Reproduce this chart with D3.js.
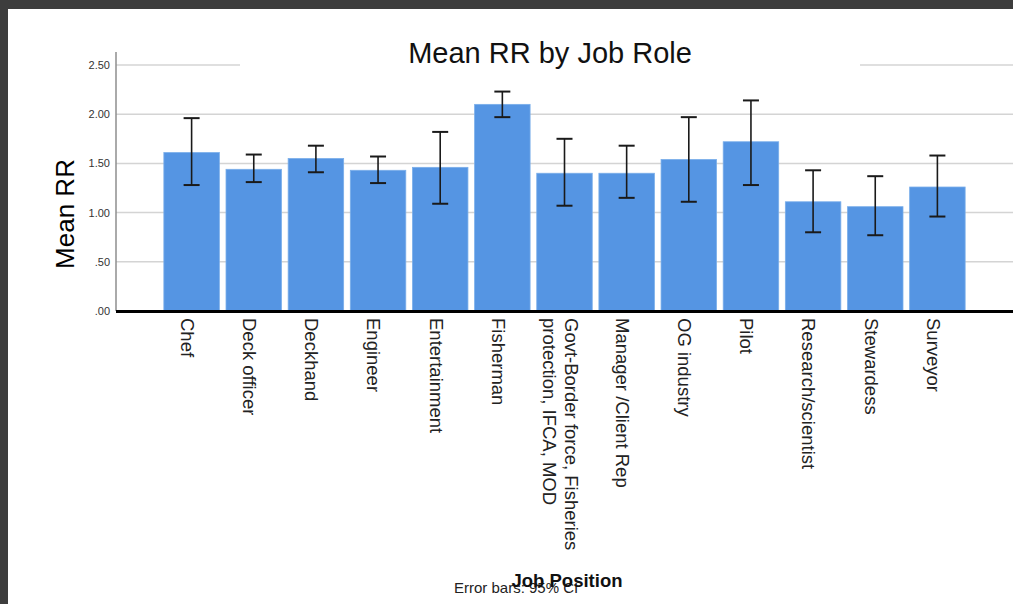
<!DOCTYPE html>
<html>
<head>
<meta charset="utf-8">
<script src="https://cdn.jsdelivr.net/npm/d3@7"></script>
<style>
  html, body { margin: 0; padding: 0; background: #ffffff; }
  svg { display: block; }
</style>
</head>
<body>
<svg id="chart" width="1013" height="604"></svg>
<script>
// Job roles (multi-line labels split with "\n")
const jobRoles = [
  "Chef", "Deck officer", "Deckhand", "Engineer", "Entertainment", "Fisherman",
  "Govt-Border force, Fisheries\nprotection, IFCA, MOD", "Manager /Client Rep",
  "OG industry", "Pilot", "Research/scientist", "Stewardess", "Surveyor"
];
// Mean RR per role
const meanRR = [1.61, 1.44, 1.55, 1.43, 1.46, 2.10, 1.40, 1.40, 1.54, 1.72, 1.11, 1.06, 1.26];
// 95% confidence interval bounds
const ciLower = [1.28, 1.31, 1.41, 1.30, 1.09, 1.97, 1.07, 1.15, 1.11, 1.28, 0.80, 0.77, 0.96];
const ciUpper = [1.96, 1.59, 1.68, 1.57, 1.82, 2.23, 1.75, 1.68, 1.97, 2.14, 1.43, 1.37, 1.58];
// Y axis ticks
const yTicks = [0, 0.5, 1.0, 1.5, 2.0, 2.5];
const yTickLabels = [".00", ".50", "1.00", "1.50", "2.00", "2.50"];

(function () {
const rows = jobRoles.map((r, i) => ({ role: r, mean: meanRR[i], lo: ciLower[i], hi: ciUpper[i] }));

const svg = d3.select("#chart");
const W = 1013, H = 604;
const plotLeft = 116, plotRight = 1013, plotTop = 65, base = 311;
const FONT = "Liberation Sans, Arial, sans-serif";

const x = d3.scaleBand().domain(jobRoles).range([plotLeft, plotRight]).paddingInner(0.107).paddingOuter(0.77);
const y = d3.scaleLinear().domain([0, 2.5]).range([base, plotTop]);

// window frame
svg.append("rect").attr("x", 0).attr("y", 0).attr("width", W).attr("height", H).attr("fill", "#ffffff");
svg.append("rect").attr("x", 0).attr("y", 0).attr("width", W).attr("height", 9).attr("fill", "#3d3d3d");
svg.append("rect").attr("x", 0).attr("y", 0).attr("width", 8).attr("height", H).attr("fill", "#3d3d3d");

// gridlines
svg.append("g").selectAll("line").data(yTicks.filter(d => d > 0)).join("line")
  .attr("x1", plotLeft).attr("x2", plotRight)
  .attr("y1", d => y(d)).attr("y2", d => y(d))
  .attr("stroke", "#d4d4d4").attr("stroke-width", 1.5);

// title box sits over the top gridline
svg.append("rect").attr("x", 240).attr("y", 30).attr("width", 620).attr("height", 45).attr("fill", "#ffffff");
svg.append("text").attr("x", 550).attr("y", 63).attr("text-anchor", "middle")
  .attr("font-family", FONT).attr("font-size", 29)
  .attr("fill", "#111").text("Mean RR by Job Role");

// y axis
const yAxis = d3.axisLeft(y).tickValues(yTicks)
  .tickFormat((d, i) => yTickLabels[i]).tickSize(0).tickPadding(6);
const gy = svg.append("g").attr("transform", `translate(${plotLeft},0)`).call(yAxis);
gy.select(".domain").remove();
gy.selectAll("text").attr("font-family", FONT).attr("font-size", 11).attr("fill", "#333");
svg.append("line").attr("x1", plotLeft).attr("x2", plotLeft).attr("y1", 52).attr("y2", base)
  .attr("stroke", "#8e8e8e").attr("stroke-width", 1.5);

svg.append("text")
  .attr("transform", `translate(74,214) rotate(-90)`)
  .attr("text-anchor", "middle")
  .attr("font-family", FONT).attr("font-size", 26)
  .attr("fill", "#000").text("Mean RR");

// bars
svg.append("g").selectAll("rect").data(rows).join("rect")
  .attr("x", d => x(d.role)).attr("width", x.bandwidth())
  .attr("y", d => y(d.mean)).attr("height", d => base - y(d.mean))
  .attr("fill", "#5595e3").attr("stroke", "#7aaeea").attr("stroke-width", 0.8);

// error bars (95% CI)
const eb = svg.append("g").attr("stroke", "#1a1a1a").attr("fill", "none");
const cx = d => x(d.role) + x.bandwidth() / 2;
eb.selectAll("line.v").data(rows).join("line").attr("class", "v")
  .attr("x1", cx).attr("x2", cx).attr("y1", d => y(d.hi)).attr("y2", d => y(d.lo))
  .attr("stroke-width", 1.6);
eb.selectAll("line.h").data(rows).join("line").attr("class", "h")
  .attr("x1", d => cx(d) - 8).attr("x2", d => cx(d) + 8)
  .attr("y1", d => y(d.hi)).attr("y2", d => y(d.hi)).attr("stroke-width", 2);
eb.selectAll("line.l").data(rows).join("line").attr("class", "l")
  .attr("x1", d => cx(d) - 8).attr("x2", d => cx(d) + 8)
  .attr("y1", d => y(d.lo)).attr("y2", d => y(d.lo)).attr("stroke-width", 2);

// baseline
svg.append("line").attr("x1", plotLeft).attr("x2", plotRight).attr("y1", base + 0.5).attr("y2", base + 0.5)
  .attr("stroke", "#000").attr("stroke-width", 3);

// category labels, rotated to read downward
const lineGap = 21.7;
const xl = svg.append("g").attr("font-family", FONT).attr("font-size", 18.5).attr("fill", "#222");
rows.forEach(d => {
  const lines = d.role.split("\n");
  const n = lines.length;
  lines.forEach((t, k) => {
    const bx = cx(d) - 10.6 + (n - 1) / 2 * lineGap - k * lineGap;
    xl.append("text").attr("transform", `translate(${bx},318) rotate(90)`)
      .attr("text-anchor", "start").attr("dy", "0.72em").attr("y", -13.3)
      .text(t);
  });
});

// footer texts
svg.append("text").attr("x", 454).attr("y", 593).attr("font-family", FONT)
  .attr("font-size", 15).attr("fill", "#222").text("Error bars: 95% CI");
svg.append("text").attr("x", 567).attr("y", 587).attr("text-anchor", "middle")
  .attr("font-family", FONT).attr("font-size", 18.5)
  .attr("font-weight", "bold").attr("fill", "#111").text("Job Position");
})();
</script>
</body>
</html>
